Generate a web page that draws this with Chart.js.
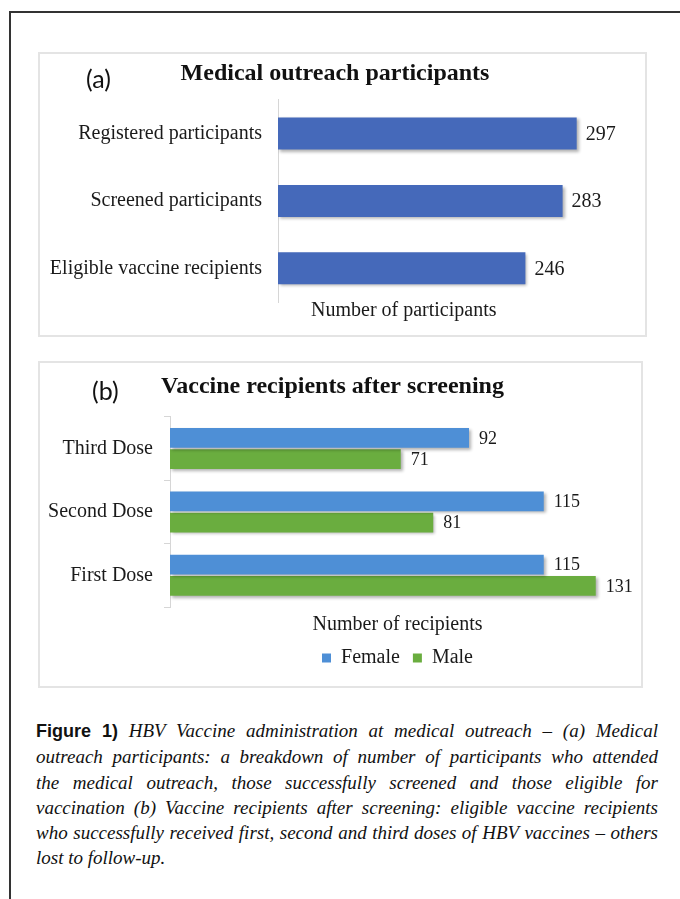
<!DOCTYPE html>
<html>
<head>
<meta charset="utf-8">
<script src="https://cdn.jsdelivr.net/npm/chart.js"></script>
<style>
  body { margin: 0; background: #fff; }
  #page { position: relative; width: 680px; height: 899px; overflow: hidden; }
  .frameTop { position: absolute; left: 9px; top: 11px; width: 671px; height: 2px; background: #333; }
  .frameLeft { position: absolute; left: 9px; top: 11px; width: 2px; height: 888px; background: #333; }
  .panel { position: absolute; border: 2px solid #e4e4e4; box-sizing: border-box; }
  .panel canvas { position: absolute; left: 0; top: 0; }
  .tag { position: absolute; font-family: Lato, sans-serif; font-size: 25px; color: #111; line-height: 1; }
  #caption { position: absolute; left: 36px; top: 718px; width: 622px; font-family: 'Liberation Serif', serif;
             font-style: italic; font-size: 19px; line-height: 25.3px; color: #111; }
  #caption div { text-align: justify; text-align-last: justify; white-space: nowrap; }
  #caption div.last { text-align-last: left; }
  #caption b { font-family: 'Liberation Sans', Arial, sans-serif; font-style: normal; font-size: 18px; }
</style>
</head>
<body>
<div id="page">
  <div class="frameTop"></div>
  <div class="frameLeft"></div>

  <div class="panel" style="left:38px; top:52px; width:609px; height:285px;">
    <canvas id="participants" width="605" height="281"></canvas>
    <span class="tag" style="left:46px; top:12px;">(a)</span>
  </div>

  <div class="panel" style="left:38px; top:361px; width:605px; height:327px;">
    <canvas id="recipients" width="601" height="323"></canvas>
    <span class="tag" style="left:52px; top:15px;">(b)</span>
  </div>

  <div id="caption">
    <div><b>Figure 1)</b> HBV Vaccine administration at medical outreach – (a) Medical</div>
    <div>outreach participants: a breakdown of number of participants who attended</div>
    <div>the medical outreach, those successfully screened and those eligible for</div>
    <div>vaccination (b) Vaccine recipients after screening: eligible vaccine recipients</div>
    <div>who successfully received first, second and third doses of HBV vaccines – others</div>
    <div class="last">lost to follow-up.</div>
  </div>
</div>

<script>
// data
const stages = ['Registered participants', 'Screened participants', 'Eligible vaccine recipients'];
const stageCounts = [297, 283, 246];

const doses = ['Third Dose', 'Second Dose', 'First Dose'];
const femaleCounts = [92, 115, 115];
const maleCounts = [71, 81, 131];

Chart.defaults.font.family = "'Liberation Serif', 'Times New Roman', serif";
Chart.defaults.color = '#1a1a1a';

// little drop shadow under the bars
const barShadow = {
  id: 'barShadow',
  beforeDatasetDraw(chart) {
    const c = chart.ctx;
    c.save();
    c.shadowColor = 'rgba(0, 0, 0, 0.3)';
    c.shadowBlur = 3;
    c.shadowOffsetX = 2;
    c.shadowOffsetY = 2;
  },
  afterDatasetDraw(chart) {
    chart.ctx.restore();
  }
};

// numbers at the end of each bar
const valueLabels = {
  id: 'valueLabels',
  afterDatasetsDraw(chart, args, opts) {
    const c = chart.ctx;
    c.save();
    c.font = opts.font;
    c.fillStyle = '#1a1a1a';
    c.textBaseline = 'middle';
    c.textAlign = 'left';
    chart.data.datasets.forEach((ds, i) => {
      chart.getDatasetMeta(i).data.forEach((bar, j) => {
        c.fillText(ds.data[j], bar.x + opts.gap, bar.y + 1);
      });
    });
    c.restore();
  }
};

// axis title placed off-centre, like the original
const axisNote = {
  id: 'axisNote',
  afterDraw(chart, args, opts) {
    const c = chart.ctx;
    c.save();
    c.font = opts.font;
    c.fillStyle = '#1a1a1a';
    c.textBaseline = 'middle';
    c.fillText(opts.text, chart.chartArea.left + opts.dx, chart.chartArea.bottom + opts.dy);
    c.restore();
  }
};

// (a) Medical outreach participants
const ctx = document.getElementById('participants');

new Chart(ctx, {
  type: 'bar',
  data: {
    labels: stages,
    datasets: [{
      label: 'Participants',
      data: stageCounts,
      backgroundColor: '#4569ba',
      borderWidth: 0,
      barPercentage: 0.95,
      categoryPercentage: 0.5
    }]
  },
  options: {
    indexAxis: 'y',
    responsive: false,
    animation: false,
    layout: { padding: { top: 0, left: 0, right: 15, bottom: 33 } },
    plugins: {
      legend: { display: false },
      tooltip: { enabled: false },
      title: {
        display: true,
        text: 'Medical outreach participants',
        font: { size: 24, weight: 'bold' },
        color: '#111',
        padding: { top: 5, bottom: 12 }
      },
      valueLabels: { font: "20px 'Liberation Serif', serif", gap: 9 },
      axisNote: { text: 'Number of participants', font: "20px 'Liberation Serif', serif", dx: 33, dy: 9 }
    },
    scales: {
      x: { display: false, min: 0, max: 350 },
      y: {
        afterFit: (scale) => { scale.width = 238; },
        grid: { display: false, drawTicks: false },
        border: { display: true, color: '#d6d6d6', width: 1 },
        ticks: { font: { size: 20 }, padding: 16, color: '#1a1a1a' }
      }
    }
  },
  plugins: [barShadow, valueLabels, axisNote]
});

// (b) Vaccine recipients after screening
const ctx1 = document.getElementById('recipients');

new Chart(ctx1, {
  type: 'bar',
  data: {
    labels: doses,
    datasets: [{
      label: 'Female',
      data: femaleCounts,
      backgroundColor: '#4e8fd6',
      borderWidth: 0,
      barPercentage: 0.93,
      categoryPercentage: 0.67
    },
    {
      label: 'Male',
      data: maleCounts,
      backgroundColor: '#6aad3f',
      borderWidth: 0,
      barPercentage: 0.93,
      categoryPercentage: 0.67
    }]
  },
  options: {
    indexAxis: 'y',
    responsive: false,
    animation: false,
    layout: { padding: { top: 0, left: 0, right: 16, bottom: 8 } },
    plugins: {
      tooltip: { enabled: false },
      title: {
        display: true,
        text: 'Vaccine recipients after screening',
        font: { size: 24, weight: 'bold' },
        color: '#111',
        padding: { top: 9, bottom: 16 }
      },
      legend: {
        position: 'bottom',
        fullSize: false,
        labels: { boxWidth: 9, boxHeight: 9, padding: 13, font: { size: 20 }, color: '#1a1a1a' }
      },
      valueLabels: { font: "18px 'Liberation Serif', serif", gap: 10 }
    },
    scales: {
      x: {
        min: 0,
        max: 140,
        grid: { display: false },
        border: { display: false },
        ticks: { display: false },
        title: {
          display: true,
          text: 'Number of recipients',
          font: { size: 20, lineHeight: 1 },
          color: '#1a1a1a',
          padding: { top: 0, bottom: 0 }
        }
      },
      y: {
        afterFit: (scale) => { scale.width = 130; },
        grid: { display: true, drawOnChartArea: false, drawTicks: true, tickLength: 6, offset: true, color: '#d6d6d6' },
        border: { display: true, color: '#d6d6d6', width: 1 },
        ticks: { font: { size: 20 }, padding: 11, color: '#1a1a1a' }
      }
    }
  },
  plugins: [barShadow, valueLabels]
});
</script>
</body>
</html>
